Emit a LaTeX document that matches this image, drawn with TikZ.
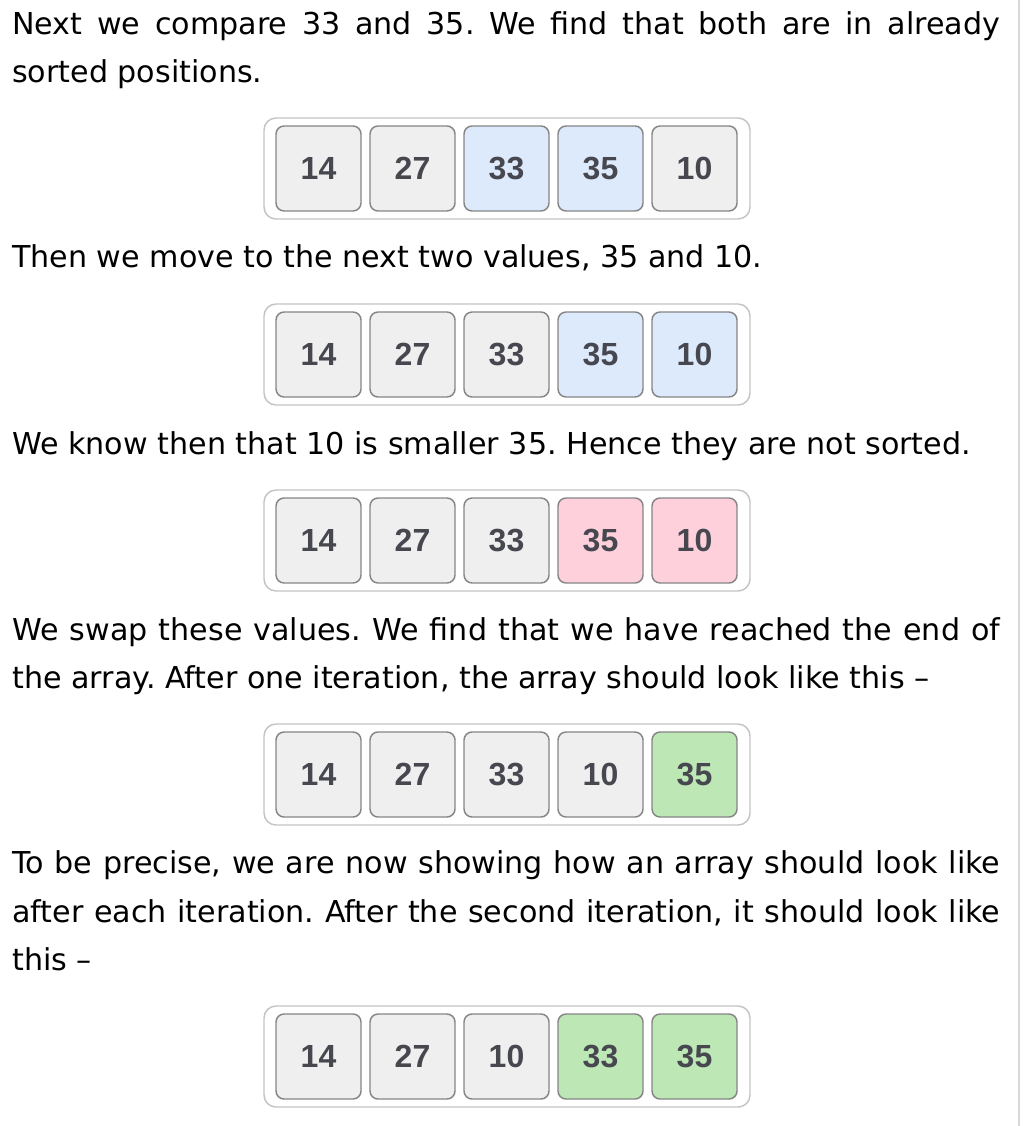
\documentclass[tikz,border=0pt]{standalone}
\usepackage{fontspec}
\setmainfont{DejaVu Sans}
\newfontfamily\numfont{Liberation Sans}
\definecolor{cgray}{HTML}{EFEFEF}
\definecolor{cblue}{HTML}{DCEAFB}
\definecolor{cpink}{HTML}{FDD0DC}
\definecolor{cgreen}{HTML}{BDE8B6}
\definecolor{cellborder}{HTML}{868686}
\definecolor{outerborder}{HTML}{C4C4C4}
\definecolor{numcol}{HTML}{474750}
\definecolor{sidebar}{HTML}{D9D9D9}
\newcommand\drawarr[3]{%
  \node[outerbox] (#1) at (507,#2+50.5) {};
  \foreach \v/\c [count=\k from 0] in {#3} {
    \node[cell, fill=\c] (#1-\k) at (318.5+94*\k,#2+50.5) {\v};
  }
}
\begin{document}
\frenchspacing
\begin{tikzpicture}[x=0.75pt,y=-0.75pt,
  txt/.style={anchor=base west, inner sep=0pt, font=\fontsize{22.6pt}{36pt}\selectfont},
  outerbox/.style={draw=outerborder, line width=1.1pt, rounded corners=9pt,
    minimum width=364.5pt, minimum height=75.75pt, inner sep=0pt},
  cell/.style={draw=cellborder, line width=1.1pt, rounded corners=6pt,
    minimum width=63.75pt, minimum height=63.75pt, inner sep=0pt,
    text=numcol, font=\numfont\bfseries\fontsize{24pt}{24pt}\selectfont}]
\useasboundingbox (0,0) rectangle (1022,1126);
\fill[white] (0,0) rectangle (1022,1126);
\coordinate (sbtop) at (1019,0);
\coordinate (sbbot) at (1019,1126);
\draw[sidebar, line width=1.6pt] (sbtop) -- (sbbot);

\node[txt] (l1) at (12,35) {\makebox[741pt][s]{Next we compare 33 and 35. We find that both are in already}};
\node[txt] (l2) at (12,83) {sorted positions.};
\drawarr{a1}{118}{14/cgray,27/cgray,33/cblue,35/cblue,10/cgray}
\node[txt] (l3) at (12,268) {Then we move to the next two values, 35 and 10.};
\drawarr{a2}{304}{14/cgray,27/cgray,33/cgray,35/cblue,10/cblue}
\node[txt] (l4) at (12,454) {We know then that 10 is smaller 35. Hence they are not sorted.};
\drawarr{a3}{490}{14/cgray,27/cgray,33/cgray,35/cpink,10/cpink}
\node[txt] (l5) at (12,640) {\makebox[741pt][s]{We swap these values. We find that we have reached the end of}};
\node[txt] (l6) at (12,688) {the array. After one iteration, the array should look like this –};
\drawarr{a4}{724}{14/cgray,27/cgray,33/cgray,10/cgray,35/cgreen}
\node[txt] (l7) at (12,873) {\makebox[741pt][s]{To be precise, we are now showing how an array should look like}};
\node[txt] (l8) at (12,922) {\makebox[741pt][s]{after each iteration. After the second iteration, it should look like}};
\node[txt] (l9) at (12,970) {this –};
\drawarr{a5}{1006}{14/cgray,27/cgray,10/cgray,33/cgreen,35/cgreen}
\end{tikzpicture}
\end{document}
